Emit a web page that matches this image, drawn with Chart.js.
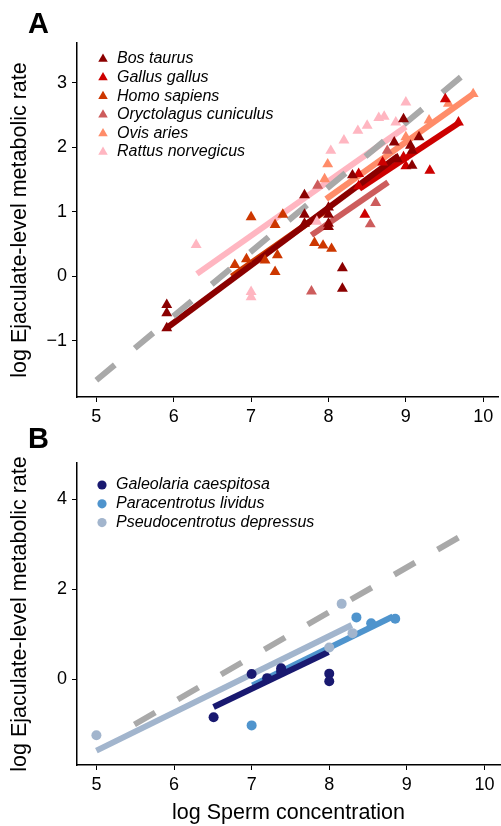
<!DOCTYPE html>
<html>
<head>
<meta charset="utf-8">
<script src="https://cdn.jsdelivr.net/npm/chart.js@4.4.1/dist/chart.umd.min.js"></script>
<style>
  html, body { margin: 0; background: #fff; overflow: hidden; }
  #wrap { position: relative; width: 501px; height: 826px; overflow: hidden; font-family: "Liberation Sans", Arial, sans-serif; }
  .panel { position: absolute; left: 0; }
  .panel canvas { display: block; }
  .tag { position: absolute; left: 28px; font-weight: bold; font-size: 29px; line-height: 1; color: #000; }
</style>
</head>
<body>
<div id="wrap">
  <div class="panel" style="top:0"><canvas id="chartA" width="505" height="430"></canvas></div>
  <div class="panel" style="top:420px"><canvas id="chartB" width="505" height="406"></canvas></div>
  <div class="tag" style="top:9px">A</div>
  <div class="tag" style="top:424px">B</div>
</div>
<script>
'use strict';

const FONT = '"Liberation Sans", Arial, sans-serif';

// axis ticks
const xTicks = [5, 6, 7, 8, 9, 10];
const yTicksA = [-1, 0, 1, 2, 3];
const yTicksB = [0, 2, 4];

// ---- panel A (mammals + chicken) ----
const speciesA = ['Bos taurus', 'Gallus gallus', 'Homo sapiens', 'Oryctolagus cuniculus', 'Ovis aries', 'Rattus norvegicus'];
const colorsA = ['#8b0000', '#cd0000', '#cd3700', '#cd5c5c', '#ff8c69', '#ffb6c1'];

const bosX = [5.91, 5.91, 5.91, 7.69, 7.69, 7.69, 8.0, 8.0, 8.0, 8.0, 8.18, 8.18, 8.31, 8.85, 8.89, 8.97, 9.06, 9.08, 9.08, 9.17];
const bosY = [-0.44, -0.57, -0.80, 1.26, 0.96, 0.82, 1.07, 0.96, 0.82, 0.77, 0.13, -0.19, 1.57, 2.08, 1.82, 2.44, 2.03, 1.95, 1.72, 2.16];
const gallusX = [8.39, 8.39, 8.47, 8.70, 8.97, 9.0, 9.31, 9.51, 9.68];
const gallusY = [1.59, 1.40, 0.96, 1.77, 1.85, 1.71, 1.64, 2.75, 2.39];
const homoX = [6.79, 6.94, 7.0, 7.18, 7.31, 7.31, 7.34, 7.41, 7.82, 7.93, 8.04];
const homoY = [0.18, 0.27, 0.92, 0.25, 0.80, 0.07, 0.33, 0.96, 0.52, 0.48, 0.43];
const oryX = [7.78, 7.86, 8.54, 8.61, 8.76];
const oryY = [-0.23, 1.41, 0.81, 1.14, 1.95];
const ovisX = [7.95, 7.99, 9.0, 9.3, 9.55, 9.87];
const ovisY = [1.51, 1.74, 2.16, 2.42, 2.68, 2.83];
const rattusX = [6.29, 7.0, 7.0, 7.85, 8.03, 8.2, 8.38, 8.5, 8.65, 8.72, 8.87, 9.0];
const rattusY = [0.49, -0.24, -0.32, 0.85, 1.95, 2.11, 2.26, 2.34, 2.46, 2.48, 2.39, 2.70];

// fitted lines (end points)
const bosFitX = [5.91, 8.9];    const bosFitY = [-0.80, 1.87];
const gallusFitX = [8.40, 9.70]; const gallusFitY = [1.36, 2.39];
const homoFitX = [6.75, 8.0];   const homoFitY = [0.0, 1.05];
const oryFitX = [7.78, 8.77];   const oryFitY = [0.64, 1.46];
const ovisFitX = [7.97, 9.87];  const ovisFitY = [1.20, 2.83];
const rattusFitX = [6.30, 9.0]; const rattusFitY = [0.04, 2.32];
const refAX = [5.0, 9.76];      const refAY = [-1.61, 3.14];

// ---- panel B (marine invertebrates) ----
const speciesB = ['Galeolaria caespitosa', 'Paracentrotus lividus', 'Pseudocentrotus depressus'];
const colorsB = ['#191970', '#4f94cd', '#a2b5cd'];

const galX = [6.51, 7.0, 7.2, 7.38, 7.38, 8.0, 8.0];
const galY = [-0.85, 0.11, 0.02, 0.24, 0.17, 0.12, -0.05];
const paraX = [7.0, 8.35, 8.54, 8.85];
const paraY = [-1.03, 1.37, 1.24, 1.34];
const pseudoX = [5.0, 8.0, 8.16, 8.3];
const pseudoY = [-1.25, 0.70, 1.67, 1.02];

const galFitX = [6.51, 7.99];    const galFitY = [-0.62, 0.60];
const paraFitX = [7.01, 8.82];   const paraFitY = [-0.14, 1.39];
const pseudoFitX = [5.0, 8.29];  const pseudoFitY = [-1.59, 1.20];
const refBX = [5.49, 9.73];      const refBY = [-1.01, 3.21];


const pts = (xs, ys) => xs.map((x, i) => ({ x: x, y: ys[i] }));

function pointSet(xs, ys, color, style, radius) {
    return {
        data: pts(xs, ys),
        backgroundColor: color,
        borderWidth: 0,
        pointStyle: style,
        pointRadius: radius,
        showLine: false,
        order: 0
    };
}

function fitSet(xs, ys, color) {
    return {
        data: pts(xs, ys),
        borderColor: color,
        borderWidth: 6,
        borderCapStyle: 'butt',
        pointRadius: 0,
        showLine: true,
        order: 2
    };
}

function refSet(xs, ys) {
    return {
        data: pts(xs, ys),
        borderColor: '#a9a9a9',
        borderWidth: 6,
        borderDash: [24, 26],
        borderCapStyle: 'butt',
        pointRadius: 0,
        showLine: true,
        order: 1
    };
}

// legend drawn inside the plot area, top left
function speciesLegend(labels, colors, style, radius, dx, dy, step) {
    return {
        id: 'speciesLegend',
        afterDraw(chart) {
            const { ctx, chartArea } = chart;
            ctx.save();
            ctx.font = 'italic 16px ' + FONT;
            ctx.textBaseline = 'middle';
            ctx.textAlign = 'left';
            labels.forEach((label, i) => {
                const y = chartArea.top + dy + i * step;
                ctx.fillStyle = colors[i];
                Chart.helpers.drawPoint(ctx, { pointStyle: style, radius: radius, rotation: 0, borderWidth: 0 },
                    chartArea.left + dx, y);
                ctx.fillStyle = '#000';
                ctx.fillText(label, chartArea.left + dx + 14, y);
            });
            ctx.restore();
        }
    };
}

function scales(yMin, yMax, yTicks, xHeight, xTitle) {
    return {
        x: {
            type: 'linear',
            min: 4.75,
            max: 10.2,
            afterBuildTicks: s => { s.ticks = xTicks.map(v => ({ value: v })); },
            afterFit: s => { s.height = xHeight; s.paddingLeft = 0; s.paddingRight = 0; },
            ticks: { color: '#000', font: { family: FONT, size: 18 }, padding: 4, maxRotation: 0 },
            grid: { drawOnChartArea: false, drawTicks: true, tickLength: 5, color: '#000' },
            border: { color: '#000', width: 1.5 },
            title: {
                display: !!xTitle,
                text: xTitle || '',
                color: '#000',
                font: { family: FONT, size: 21.5 },
                padding: 0
            }
        },
        y: {
            type: 'linear',
            min: yMin,
            max: yMax,
            afterBuildTicks: s => { s.ticks = yTicks.map(v => ({ value: v })); },
            afterFit: s => { s.width = 77; s.paddingTop = 0; s.paddingBottom = 0; },
            ticks: {
                color: '#000',
                font: { family: FONT, size: 18 },
                padding: 5,
                callback: v => v < 0 ? '\u2212' + Math.abs(v) : String(v)
            },
            grid: { drawOnChartArea: false, drawTicks: true, tickLength: 5, color: '#000' },
            border: { color: '#000', width: 1.5 },
            title: {
                display: true,
                text: 'log Ejaculate-level metabolic rate',
                color: '#000',
                font: { family: FONT, size: 21.5 },
                padding: { top: 7, bottom: 0 }
            }
        }
    };
}

const baseOptions = (sc) => ({
    responsive: false,
    animation: false,
    layout: { padding: { top: 43, right: 0, left: 0, bottom: 0 } },
    scales: sc,
    plugins: { legend: { display: false }, tooltip: { enabled: false } }
});

new Chart(document.getElementById('chartA'), {
    type: 'scatter',
    data: {
        datasets: [
            pointSet(bosX, bosY, colorsA[0], 'triangle', 6.3),
            pointSet(gallusX, gallusY, colorsA[1], 'triangle', 6.3),
            pointSet(homoX, homoY, colorsA[2], 'triangle', 6.3),
            pointSet(oryX, oryY, colorsA[3], 'triangle', 6.3),
            pointSet(ovisX, ovisY, colorsA[4], 'triangle', 6.3),
            pointSet(rattusX, rattusY, colorsA[5], 'triangle', 6.3),
            fitSet(bosFitX, bosFitY, colorsA[0]),
            fitSet(gallusFitX, gallusFitY, colorsA[1]),
            fitSet(homoFitX, homoFitY, colorsA[2]),
            fitSet(oryFitX, oryFitY, colorsA[3]),
            fitSet(ovisFitX, ovisFitY, colorsA[4]),
            fitSet(rattusFitX, rattusFitY, colorsA[5]),
            refSet(refAX, refAY)
        ]
    },
    options: baseOptions(scales(-1.87, 3.62, yTicksA, 33, null)),
    plugins: [speciesLegend(speciesA, colorsA, 'triangle', 5.5, 26, 16, 18.6)]
});

new Chart(document.getElementById('chartB'), {
    type: 'scatter',
    data: {
        datasets: [
            pointSet(galX, galY, colorsB[0], 'circle', 5),
            pointSet(paraX, paraY, colorsB[1], 'circle', 5),
            pointSet(pseudoX, pseudoY, colorsB[2], 'circle', 5),
            fitSet(galFitX, galFitY, colorsB[0]),
            fitSet(paraFitX, paraFitY, colorsB[1]),
            fitSet(pseudoFitX, pseudoFitY, colorsB[2]),
            refSet(refBX, refBY)
        ]
    },
    options: baseOptions(scales(-1.91, 4.8, yTicksB, 61, 'log Sperm concentration')),
    plugins: [speciesLegend(speciesB, colorsB, 'circle', 4.6, 25, 22, 18.8)]
});
</script>
</body>
</html>
